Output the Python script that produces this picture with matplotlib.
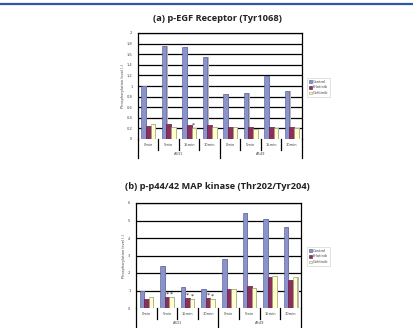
import matplotlib
matplotlib.use("Agg")
import matplotlib.pyplot as plt
from matplotlib.lines import Line2D
import numpy as np

categories = ["0min", "5min", "15min", "30min", "0min", "5min", "15min", "30min"]
groups = ["A431", "A549"]
series_names = ["Control", "Erlotinib", "Gefitinib"]

egf_control = [1.00, 1.76, 1.74, 1.55, 0.85, 0.87, 1.18, 0.91]
egf_erlotinib = [0.24, 0.29, 0.27, 0.27, 0.23, 0.23, 0.23, 0.23]
egf_gefitinib = [0.28, 0.23, 0.21, 0.23, 0.23, 0.19, 0.21, 0.21]

map_control = [0.97, 2.39, 1.20, 1.09, 2.79, 5.43, 5.09, 4.61]
map_erlotinib = [0.52, 0.63, 0.57, 0.59, 1.11, 1.26, 1.78, 1.59]
map_gefitinib = [0.63, 0.63, 0.52, 0.52, 1.09, 1.13, 1.85, 1.76]

egf_yticks = [0, 0.2, 0.4, 0.6, 0.8, 1, 1.2, 1.4, 1.6, 1.8, 2]
egf_yticklabels = ["0", "0.2", "0.4", "0.6", "0.8", "1", "1.2", "1.4", "1.6", "1.8", "2"]
map_yticks = [0, 1, 2, 3, 4, 5, 6]
map_yticklabels = ["0", "1", "2", "3", "4", "5", "6"]

# asterisk markers: (category index, series index)
egf_stars = [(2, 2)]
map_stars = [(1, 1), (1, 2), (2, 1), (2, 2), (3, 1), (3, 2)]

colors = ["#8b93cb", "#8c2f5f", "#ffffcc"]
edges = ["#4d5590", "#5a1a3a", "#9a9a70"]

fig = plt.figure(figsize=(4.14, 3.28), dpi=100)
fig.patch.set_facecolor("white")

# top blue rule
fig.add_artist(Line2D([0, 1], [1 - 4 / 328, 1 - 4 / 328], color="#2f56ad",
                      lw=1.6, transform=fig.transFigure))

title_font = dict(family="Open Sans", weight="bold", size=6.7, color="#222222")


def draw(ax, series, ymax, yticks, yticklabels, stars, title, title_y, leg_box):
    n = len(categories)
    x = np.arange(n)
    w = 0.22
    offs = [-0.22, 0.0, 0.22]
    for i, vals in enumerate(series):
        ax.bar(x + offs[i] + 0.05, vals, width=w, color="#b8b8b8", zorder=2,
               linewidth=0)
        ax.bar(x + offs[i], vals, width=w, color=colors[i], edgecolor=edges[i],
               linewidth=0.4, zorder=3, label=series_names[i])
    for (ci, si) in stars:
        ax.text(ci + offs[si], series[si][ci] + ymax * 0.004, "*", ha="center",
                va="bottom", fontsize=4.5, color="#222222", zorder=4)
    ax.set_xlim(-0.5, n - 0.5)
    ax.set_ylim(0, ymax)
    ax.set_yticks(yticks)
    ax.set_yticklabels(yticklabels, fontsize=2.6, color="#444444")
    ax.tick_params(axis="y", length=0, pad=4)
    ax.set_xticks([])
    for y in yticks[1:]:
        ax.axhline(y, color="black", lw=0.9, zorder=1)
    for s in ["top", "right", "left"]:
        ax.spines[s].set_linewidth(0.9)
    ax.spines["bottom"].set_visible(False)
    ax.axhline(0, color="#888888", lw=0.5, zorder=1)
    ax.set_ylabel("Phosphorylation level (-)", fontsize=2.6, color="#444444",
                  labelpad=1.5)
    tr = ax.get_xaxis_transform()
    h = ax.get_position().height * 328
    short = -11.0 / h
    long_ = -19.0 / h
    for b in range(1, n):
        y1 = long_ if b == 4 else short
        ax.add_line(Line2D([b - 0.5, b - 0.5], [0, y1], transform=tr,
                           color="black", lw=0.9, clip_on=False))
    for b in [-0.5, n - 0.5]:
        ax.add_line(Line2D([b, b], [0, long_], transform=tr, color="black",
                           lw=0.9, clip_on=False))
    for i, c in enumerate(categories):
        ax.text(i, -6.0 / h, c, transform=tr, ha="center", va="center",
                fontsize=2.6, color="#444444")
    for g, gname in enumerate(groups):
        ax.text(1.5 + 4 * g, -15.0 / h, gname, transform=tr, ha="center",
                va="center", fontsize=2.6, color="#444444")
    fig.text(217 / 414, 1 - title_y / 328, title, ha="center", va="center",
             **title_font)
    leg = ax.legend(loc="upper left", bbox_to_anchor=leg_box,
                    bbox_transform=fig.transFigure, fontsize=2.6, frameon=True,
                    handlelength=0.8, handleheight=0.8, borderpad=0.5,
                    labelspacing=0.5, handletextpad=0.4, fancybox=False,
                    edgecolor="#cccccc")
    leg.get_frame().set_linewidth(0.5)
    for t in leg.get_texts():
        t.set_color("#444444")
    return ax


ax1 = fig.add_axes([138 / 414, 1 - 139 / 328, (302 - 138) / 414, (139 - 33) / 328])
draw(ax1, [egf_control, egf_erlotinib, egf_gefitinib], 2, egf_yticks,
     egf_yticklabels, egf_stars, "(a) p-EGF Receptor (Tyr1068)", 18.5,
     (305 / 414, 1 - 76 / 328))

ax2 = fig.add_axes([136 / 414, 1 - 308 / 328, (301 - 136) / 414, (308 - 203) / 328])
draw(ax2, [map_control, map_erlotinib, map_gefitinib], 6, map_yticks,
     map_yticklabels, map_stars, "(b) p-p44/42 MAP kinase (Thr202/Tyr204)", 187,
     (305 / 414, 1 - 245 / 328))

fig.savefig("out.png", dpi=100, facecolor="white")
